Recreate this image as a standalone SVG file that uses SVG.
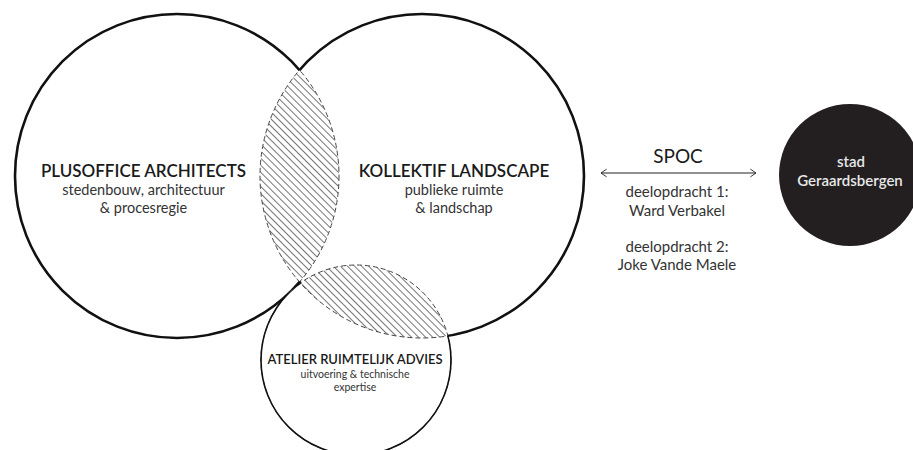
<svg xmlns="http://www.w3.org/2000/svg" width="913" height="450" viewBox="0 0 913 450">
<style>
.solid{fill:none;stroke:#111;stroke-width:2.6}
.solid-thin{fill:none;stroke:#111;stroke-width:1.6}
.dash{fill:none;stroke:#444;stroke-width:1;stroke-dasharray:5 3}
.title{font-family:Lato,"Open Sans","Liberation Sans",sans-serif;font-weight:600;fill:#1a1a1a;text-anchor:middle}
.sub{font-family:Lato,"Open Sans","Liberation Sans",sans-serif;font-weight:400;fill:#333;text-anchor:middle}
.white{font-family:Lato,"Open Sans","Liberation Sans",sans-serif;font-weight:600;fill:#e8e8e8;text-anchor:middle}
.arrow{fill:none;stroke:#222;stroke-width:1.1}
</style>
<defs>
<pattern id="hatch" patternUnits="userSpaceOnUse" width="5" height="5" patternTransform="rotate(45)">
<line x1="0" y1="2.5" x2="5" y2="2.5" stroke="#666" stroke-width="0.9"/>
</pattern>
<clipPath id="clipR"><circle cx="422" cy="176" r="162"/></clipPath>
<mask id="mL" maskUnits="userSpaceOnUse" x="0" y="0" width="913" height="450">
<rect x="0" y="0" width="913" height="450" fill="#fff"/>
<circle cx="422" cy="176" r="162" fill="#000"/>
<circle cx="356" cy="360" r="95" fill="#000"/>
</mask>
<mask id="mR" maskUnits="userSpaceOnUse" x="0" y="0" width="913" height="450">
<rect x="0" y="0" width="913" height="450" fill="#fff"/>
<circle cx="177" cy="176" r="162" fill="#000"/>
<circle cx="356" cy="360" r="95" fill="#000"/>
</mask>
<mask id="mS" maskUnits="userSpaceOnUse" x="0" y="0" width="913" height="450">
<rect x="0" y="0" width="913" height="450" fill="#fff"/>
<circle cx="177" cy="176" r="162" fill="#000"/>
<circle cx="422" cy="176" r="162" fill="#000"/>
</mask>
<marker id="chev" viewBox="0 0 10 12" refX="9" refY="6" markerWidth="7" markerHeight="10" markerUnits="userSpaceOnUse" orient="auto-start-reverse">
<path d="M1,0.5 L9,6 L1,11.5" fill="none" stroke="#222" stroke-width="1.3"/>
</marker>
</defs>
<rect width="913" height="450" fill="#fff"/>

<g id="overlaps">
<g clip-path="url(#clipR)"><circle cx="177" cy="176" r="162" fill="url(#hatch)"/></g>
<g clip-path="url(#clipR)"><circle cx="356" cy="360" r="95" fill="url(#hatch)"/></g>
<circle class="dash" cx="177" cy="176" r="162"/>
<circle class="dash" cx="422" cy="176" r="162"/>
<circle class="dash" cx="356" cy="360" r="95"/>
</g>

<g id="node-plusoffice">
<circle class="solid" cx="177" cy="176" r="162" mask="url(#mL)"/>
<text class="title" x="143.5" y="177" font-size="17">PLUSOFFICE ARCHITECTS</text>
<text class="sub" x="143.5" y="195" font-size="14.5">stedenbouw, architectuur</text>
<text class="sub" x="143.5" y="213" font-size="14.5">&amp; procesregie</text>
</g>

<g id="node-kollektif">
<circle class="solid" cx="422" cy="176" r="162" mask="url(#mR)"/>
<text class="title" x="454" y="177" font-size="17">KOLLEKTIF LANDSCAPE</text>
<text class="sub" x="454" y="195" font-size="14.5">publieke ruimte</text>
<text class="sub" x="454" y="213" font-size="14.5">&amp; landschap</text>
</g>

<g id="node-atelier">
<circle class="solid-thin" cx="356" cy="360" r="95" mask="url(#mS)"/>
<text class="title" x="355" y="364" font-size="13">ATELIER RUIMTELIJK ADVIES</text>
<text class="sub" x="355" y="378" font-size="10.5">uitvoering &amp; technische</text>
<text class="sub" x="355" y="391" font-size="10.5">expertise</text>
</g>

<g id="node-stad">
<circle cx="850" cy="175" r="71" fill="#231f20"/>
<text class="white" x="851" y="167" font-size="15">stad</text>
<text class="white" x="850" y="186" font-size="15">Geraardsbergen</text>
</g>

<g id="connectors">
<line class="arrow" x1="601" y1="173" x2="756" y2="173" marker-start="url(#chev)" marker-end="url(#chev)"/>
<text class="sub" x="678" y="163" font-size="19" style="fill:#1a1a1a">SPOC</text>
<text class="sub" x="677" y="197" font-size="15">deelopdracht 1:</text>
<text class="sub" x="677" y="216" font-size="15">Ward Verbakel</text>
<text class="sub" x="677" y="252" font-size="15">deelopdracht 2:</text>
<text class="sub" x="677" y="270" font-size="15">Joke Vande Maele</text>
</g>
</svg>
